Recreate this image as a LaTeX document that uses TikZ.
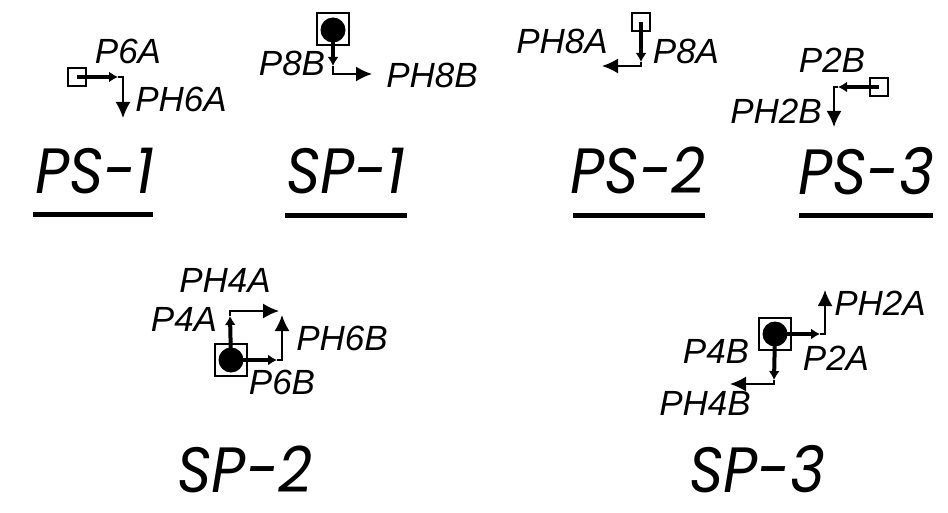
\documentclass[tikz,border=0pt]{standalone}
\usepackage{fontspec}
\setmainfont{Liberation Sans}
\newfontfamily\bigf{Poppins}[FakeStretch=0.92]
\usetikzlibrary{arrows.meta}
\tikzset{
 lbl/.style={font=\fontsize{35}{35}\selectfont\itshape, inner sep=0pt},
 ttl/.style={font=\bigf\fontsize{64}{64}\selectfont\itshape, inner sep=0pt},
 sqs/.style={draw, line width=2pt, minimum size=18pt, inner sep=0pt},
 sqb/.style={draw, line width=2pt, minimum size=32pt, inner sep=0pt},
 dot/.style={fill, circle, minimum size=25pt, inner sep=0pt},
 thk/.style={line width=4pt, -{Latex[length=9pt,width=11pt]}},
 thn/.style={line width=1.8pt, -{Latex[length=16pt,width=15pt]}},
 uline/.style={line width=5pt},
}
\begin{document}
\begin{tikzpicture}[x=1pt,y=-1pt]
\useasboundingbox (0,0) rectangle (948,513);
% ---------- PS-1
\node[sqs] (s1) at (77,77) {};
\coordinate (k1) at (118,77);
\coordinate (e1) at (123,118);
\draw[thk] (s1.center) -- (k1);
\draw[thn] (k1) -| (e1);
\node[lbl] (l1a) at (128,51) {P6A};
\node[lbl] (l1b) at (181,99) {PH6A};
\node[ttl] (t1) at (95,171) {PS-1};
\draw[uline] (33,215) -- (153,215);
% ---------- SP-1
\node[sqb] (s2) at (333,29) {};
\node[dot] (d2) at (333,30) {};
\coordinate (k2) at (333,66);
\coordinate (e2) at (372,74);
\draw[thk] (d2.center) -- (k2);
\draw[thn] (k2) |- (e2);
\node[lbl] (l2a) at (292,63) {P8B};
\node[lbl] (l2b) at (432,75) {PH8B};
\node[ttl] (t2) at (346,171) {SP-1};
\draw[uline] (285,216) -- (407,216);
% ---------- PS-2
\node[sqs] (s3) at (641,22) {};
\coordinate (k3) at (641,62);
\coordinate (e3) at (602,66);
\draw[thk] (s3.center) -- (k3);
\draw[thn] (k3) |- (e3);
\node[lbl] (l3a) at (562,41) {PH8A};
\node[lbl] (l3b) at (686,51) {P8A};
\node[ttl] (t3) at (638,170) {PS-2};
\draw[uline] (573,216) -- (705,216);
% ---------- PS-3
\node[sqs] (s4) at (879,87) {};
\coordinate (k4) at (838,87);
\coordinate (e4) at (834,127);
\draw[thk] (s4.center) -- (k4);
\draw[thn] (k4) -| (e4);
\node[lbl] (l4a) at (832,60) {P2B};
\node[lbl] (l4b) at (776,111) {PH2B};
\node[ttl] (t4) at (866,171) {PS-3};
\draw[uline] (799,216) -- (933,216);
% ---------- SP-2
\node[sqb] (s5) at (231,360) {};
\node[dot] (d5) at (231,360) {};
\coordinate (k5u) at (230,316);
\coordinate (e5u) at (279,311);
\coordinate (k5r) at (277,360);
\coordinate (e5r) at (282,315);
\draw[thk] (d5.center) -- (k5u);
\draw[thn] (k5u) |- (e5u);
\draw[thk] (d5.center) -- (k5r);
\draw[thn] (k5r) -| (e5r);
\node[lbl] (l5a) at (225,280) {PH4A};
\node[lbl] (l5b) at (184,319) {P4A};
\node[lbl] (l5c) at (342,338) {PH6B};
\node[lbl] (l5d) at (282,382) {P6B};
\node[ttl] (t5) at (245,469) {SP-2};
% ---------- SP-3
\node[sqb] (s6) at (775,334) {};
\node[dot] (d6) at (775,334) {};
\coordinate (k6r) at (820,334);
\coordinate (e6r) at (825,290);
\coordinate (k6d) at (774,380);
\coordinate (e6d) at (730,384);
\draw[thk] (d6.center) -- (k6r);
\draw[thn] (k6r) -| (e6r);
\draw[thk] (d6.center) -- (k6d);
\draw[thn] (k6d) |- (e6d);
\node[lbl] (l6a) at (880,303) {PH2A};
\node[lbl] (l6b) at (716,351) {P4B};
\node[lbl] (l6c) at (836,358) {P2A};
\node[lbl] (l6d) at (705,403) {PH4B};
\node[ttl] (t6) at (757,469) {SP-3};
\end{tikzpicture}
\end{document}
